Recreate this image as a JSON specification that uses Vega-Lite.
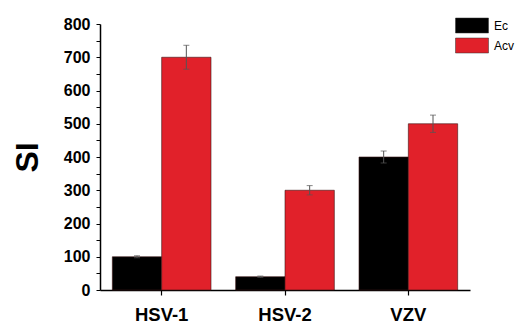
{
  "$schema": "https://vega.github.io/schema/vega-lite/v6.json",
  "width": 370,
  "height": 266,
  "autosize": {"type": "none"},
  "padding": {"left": 100, "top": 24, "right": 57, "bottom": 37},
  "background": "white",
  "config": {"view": {"stroke": null}, "font": "Liberation Sans"},
  "data": {
    "values": [
      {"virus": "HSV-1", "drug": "Ec", "si": 100, "err": 3},
      {"virus": "HSV-1", "drug": "Acv", "si": 700, "err": 36},
      {"virus": "HSV-2", "drug": "Ec", "si": 40, "err": 2},
      {"virus": "HSV-2", "drug": "Acv", "si": 300, "err": 14},
      {"virus": "VZV", "drug": "Ec", "si": 400, "err": 18},
      {"virus": "VZV", "drug": "Acv", "si": 500, "err": 26}
    ]
  },
  "encoding": {
    "x": {
      "field": "virus",
      "type": "nominal",
      "sort": ["HSV-1", "HSV-2", "VZV"],
      "scale": {"paddingInner": 0.2, "paddingOuter": 0.1},
      "axis": {
        "title": null,
        "labelAngle": 0,
        "labelFontSize": 18.5,
        "labelFontWeight": "bold",
        "labelColor": "black",
        "labelPadding": 10,
        "tickSize": 5,
        "tickColor": "black",
        "domainColor": "black",
        "domainWidth": 1.5,
        "tickWidth": 1.2
      }
    },
    "xOffset": {"field": "drug", "type": "nominal", "sort": ["Ec", "Acv"]},
    "y": {
      "field": "si",
      "type": "quantitative",
      "title": "SI",
      "scale": {"domain": [0, 800], "nice": false},
      "axis": {
        "title": "SI",
        "titleFontSize": 32,
        "titleFontWeight": "bold",
        "titleColor": "black",
        "titlePadding": 19,
        "values": [0, 50, 100, 150, 200, 250, 300, 350, 400, 450, 500, 550, 600, 650, 700, 750, 800],
        "labelExpr": "datum.value % 100 == 0 ? datum.label : ''",
        "labelOverlap": false,
        "labelFontSize": 16,
        "labelFontWeight": "bold",
        "labelColor": "black",
        "labelPadding": 6,
        "tickSize": 4,
        "tickColor": "black",
        "domainColor": "black",
        "domainWidth": 1.5,
        "grid": false
      }
    }
  },
  "layer": [
    {
      "mark": {"type": "bar", "stroke": "#3a1414", "strokeWidth": 0.6},
      "encoding": {
        "color": {
          "field": "drug",
          "type": "nominal",
          "sort": ["Ec", "Acv"],
          "scale": {"range": ["#000000", "#e1212a"]},
          "legend": {
            "title": null,
            "orient": "none",
            "legendX": 364,
            "legendY": -6.5,
            "padding": 0,
            "symbolType": "M-2.2,-1H2.2V1H-2.2Z",
            "symbolSize": 225,
            "symbolStrokeColor": "#333",
            "symbolStrokeWidth": 0.5,
            "labelFontSize": 12,
            "labelColor": "black",
            "labelOffset": 14,
            "rowPadding": 2
          }
        }
      }
    },
    {
      "mark": {
        "type": "errorbar",
        "ticks": {"size": 6, "color": "#555555"},
        "rule": {"color": "#555555", "strokeWidth": 1}
      },
      "encoding": {
        "yError": {"field": "err"}
      }
    }
  ]
}
